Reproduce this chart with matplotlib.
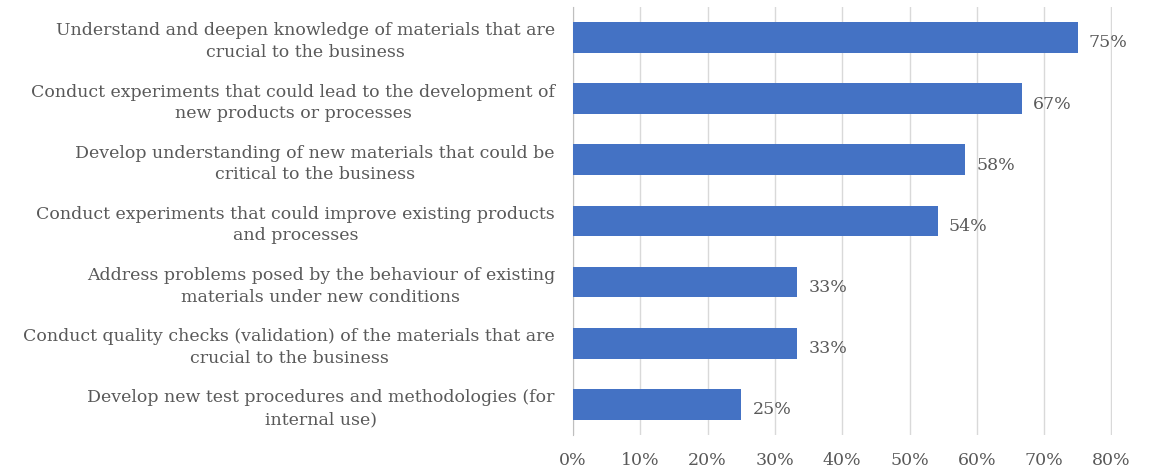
import matplotlib
matplotlib.use("Agg")
from matplotlib import pyplot as plt
from matplotlib.ticker import PercentFormatter

categories = [
    "Understand and deepen knowledge of materials that are\ncrucial to the business",
    "Conduct experiments that could lead to the development of\nnew products or processes",
    "Develop understanding of new materials that could be\ncritical to the business",
    "Conduct experiments that could improve existing products\nand processes",
    "Address problems posed by the behaviour of existing\nmaterials under new conditions",
    "Conduct quality checks (validation) of the materials that are\ncrucial to the business",
    "Develop new test procedures and methodologies (for\ninternal use)",
]
values = [0.750, 0.667, 0.583, 0.542, 0.333, 0.333, 0.250]
value_labels = ["75%", "67%", "58%", "54%", "33%", "33%", "25%"]
xticks = [0, 0.1, 0.2, 0.3, 0.4, 0.5, 0.6, 0.7, 0.8]

text_color = "#595959"
plt.rcParams["font.family"] = ["DejaVu Serif"]

fig = plt.figure(figsize=(11.67, 4.70), dpi=100)
ax = fig.add_axes([0.491, 0.0745, 0.462, 0.911])

pos = list(range(len(categories)))[::-1]
ax.barh(pos, values, height=0.5, color="#4472C4", zorder=3)
for p, v, lab in zip(pos, values, value_labels):
    ax.annotate(lab, (v, p), xytext=(8, -4), textcoords="offset points",
                va="center", ha="left", fontsize=12.5, color=text_color)

ax.set_xlim(0, 0.801)
ax.set_ylim(-0.5, len(categories) - 0.5)
ax.set_xticks(xticks)
ax.xaxis.set_major_formatter(PercentFormatter(1.0, decimals=0))
ax.set_yticks(pos)
ax.set_yticklabels(categories, multialignment="center", linespacing=1.35)
ax.tick_params(axis="both", length=0, labelsize=12.5, labelcolor=text_color)
ax.tick_params(axis="y", pad=13)
ax.tick_params(axis="x", pad=12)
ax.grid(axis="x", color="#d9d9d9", linewidth=1, zorder=0)
for s in ["top", "right", "bottom"]:
    ax.spines[s].set_visible(False)
ax.spines["left"].set_color("#bfbfbf")

fig.savefig("out.png", dpi=100)
